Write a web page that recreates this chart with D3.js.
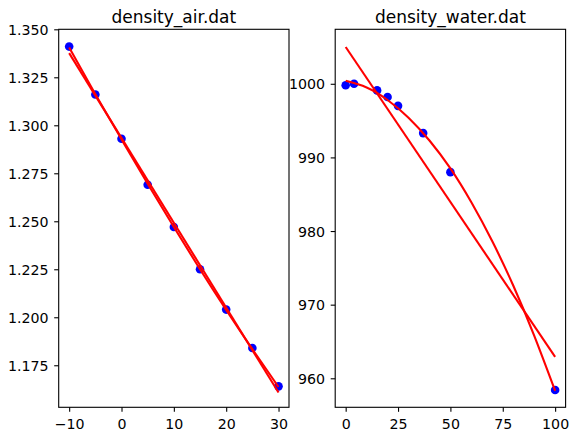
<!DOCTYPE html>
<html>
<head>
<meta charset="utf-8">
<script src="https://cdn.jsdelivr.net/npm/d3@7"></script>
<style>
  body { margin: 0; background: #fff; }
</style>
</head>
<body>
<svg id="chart" width="570" height="432"></svg>
<script>
// air: temperature vs density
const airT = [-10, -5, 0, 5, 10, 15, 20, 25, 30];
const airRho = [1.341, 1.316, 1.293, 1.269, 1.247, 1.225, 1.204, 1.184, 1.164];
// fitted lines
const airLinX = [-10, 30];
const airLinY = [1.3376, 1.1608];
const airQuadX = [-10, -5, 0, 5, 10, 15, 20, 25, 30];
const airQuadY = [1.3405, 1.3162, 1.2927, 1.2695, 1.2470, 1.2250, 1.2038, 1.1834, 1.1637];

// water
const waterT = [0, 4, 15, 20, 25, 37, 50, 100];
const waterRho = [999.8, 1000.0, 999.1, 998.2, 997.0, 993.3, 988.0, 958.4];
const waterLinX = [0, 100];
const waterLinY = [1005.0, 962.9];
const waterQuadX = [0, 10, 20, 30, 40, 50, 60, 70, 80, 90, 100];
const waterQuadY = [1000.4, 999.5, 997.8, 995.4, 992.3, 988.5, 983.9, 978.6, 972.6, 965.8, 958.3];

const airXTicks = [-10, 0, 10, 20, 30];
const airYTicks = [1.175, 1.200, 1.225, 1.250, 1.275, 1.300, 1.325, 1.350];
const waterXTicks = [0, 25, 50, 75, 100];
const waterYTicks = [960, 970, 980, 990, 1000];

const FONT = "'DejaVu Sans', sans-serif";
const svg = d3.select("#chart");

const TOP = 29.3, BOTTOM = 407.3;

function styleTicks(a) {
  a.select(".domain").remove();
  a.selectAll(".tick line").attr("stroke", "#000").attr("stroke-width", 1.1);
  a.selectAll(".tick text")
    .style("font-family", FONT)
    .style("font-size", "14.2px")
    .attr("fill", "#000");
}

function panel(opts) {
  const x = d3.scaleLinear().domain(opts.xDomain).range([opts.left, opts.right]);
  const y = d3.scaleLinear().domain(opts.yDomain).range([BOTTOM, TOP]);
  const g = svg.append("g");

  // markers first, red lines sit on top of them
  g.selectAll("circle")
    .data(opts.xs.map((d, i) => [d, opts.ys[i]]))
    .join("circle")
    .attr("cx", d => x(d[0]))
    .attr("cy", d => y(d[1]))
    .attr("r", 4.3)
    .attr("fill", "#0000ff");

  const line = d3.line().x(d => x(d[0])).y(d => y(d[1]));
  g.append("path")
    .attr("d", line(opts.linX.map((d, i) => [d, opts.linY[i]])))
    .attr("fill", "none").attr("stroke", "#ff0000").attr("stroke-width", 2.1);
  g.append("path")
    .attr("d", line.curve(d3.curveNatural)(opts.quadX.map((d, i) => [d, opts.quadY[i]])))
    .attr("fill", "none").attr("stroke", "#ff0000").attr("stroke-width", 2.1);

  g.append("g")
    .attr("transform", `translate(0,${BOTTOM})`)
    .call(d3.axisBottom(x).tickValues(opts.xTicks).tickSize(4.5).tickPadding(6.8)
      .tickFormat(d => d < 0 ? "\u2212" + Math.abs(d) : d))
    .call(styleTicks);

  g.append("g")
    .attr("transform", `translate(${opts.left},0)`)
    .call(d3.axisLeft(y).tickValues(opts.yTicks).tickSize(4.5).tickPadding(5.6)
      .tickFormat(opts.yFormat))
    .call(styleTicks)
    .selectAll(".tick text").attr("dy", "0.36em");

  g.append("rect")
    .attr("x", opts.left).attr("y", TOP)
    .attr("width", opts.right - opts.left).attr("height", BOTTOM - TOP)
    .attr("fill", "none").attr("stroke", "#000").attr("stroke-width", 1.1);

  g.append("text")
    .attr("x", (opts.left + opts.right) / 2)
    .attr("y", 23)
    .attr("text-anchor", "middle")
    .style("font-family", FONT)
    .style("font-size", "17px")
    .text(opts.title);
}

panel({
  title: "density_air.dat",
  left: 58.7, right: 289,
  xDomain: [-12, 32], yDomain: [1.1531, 1.350],
  xs: airT, ys: airRho,
  linX: airLinX, linY: airLinY,
  quadX: airQuadX, quadY: airQuadY,
  xTicks: airXTicks, yTicks: airYTicks,
  yFormat: d3.format(".3f")
});

panel({
  title: "density_water.dat",
  left: 335.2, right: 565.6,
  xDomain: [-5, 105], yDomain: [956.06, 1007.4],
  xs: waterT, ys: waterRho,
  linX: waterLinX, linY: waterLinY,
  quadX: waterQuadX, quadY: waterQuadY,
  xTicks: waterXTicks, yTicks: waterYTicks,
  yFormat: d3.format("d")
});
</script>
</body>
</html>
